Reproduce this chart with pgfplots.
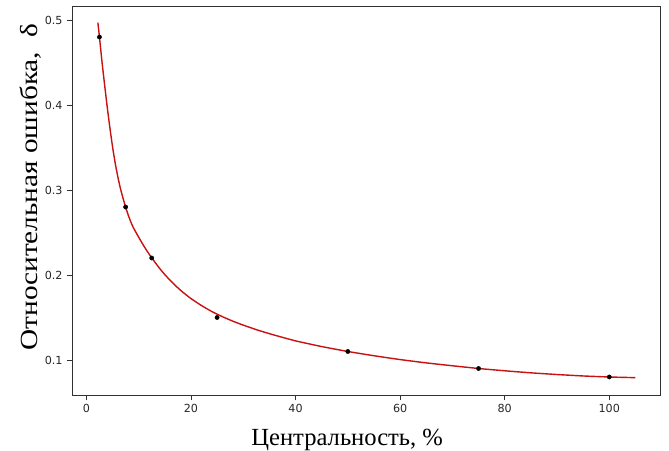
\documentclass[border=0pt]{standalone}
\usepackage{pgfplots}
\pgfplotsset{compat=1.18}
\usepackage{graphicx}
\usepackage{fontspec}
\setmainfont{Liberation Serif}
\newfontfamily\tickfont{DejaVu Sans}

\definecolor{fitred}{RGB}{200,18,18}
\definecolor{framegray}{RGB}{50,50,50}

% measured points
\pgfplotstableread{
x y
2.5 0.48
7.5 0.28
12.5 0.22
25 0.15
50 0.11
75 0.09
100 0.08
}\measured

% fitted curve
\pgfplotstableread{
x y
2.2 0.497
2.5 0.480
2.75 0.465
3 0.450
3.5 0.423
4 0.397
4.5 0.373
5 0.351
5.5 0.332
6 0.316
6.5 0.302
7 0.2905
7.5 0.280
8 0.2705
8.5 0.2625
9 0.2555
10 0.2445
11 0.2340
12 0.2245
13 0.2160
14 0.2078
15 0.2005
16 0.1938
17 0.1877
18 0.1821
19 0.1770
20 0.1723
22 0.1641
24 0.1570
26 0.1510
28 0.1457
30 0.1410
33 0.1347
36 0.1292
40 0.1225
45 0.1158
50 0.1100
55 0.1050
60 0.1005
65 0.0966
70 0.0932
75 0.0900
80 0.0873
85 0.0849
90 0.0829
95 0.0812
100 0.0800
105 0.0792
}\fit

\begin{document}
\begin{tikzpicture}
\begin{axis}[
  name=ax,
  scale only axis,
  width=17.64cm, height=11.67cm,
  xmin=-2.75, xmax=109.7,
  ymin=0.0588, ymax=0.5165,
  xtick={0,20,40,60,80,100},
  ytick={0.1,0.2,0.3,0.4,0.5},
  yticklabel style={/pgf/number format/.cd,fixed,fixed zerofill,precision=1},
  /pgf/number format/assume math mode=true,
  ticklabel style={font=\tickfont\fontsize{9.5}{11}\selectfont, text=black!85},
  tick align=outside,
  tick pos=left,
  major tick length=1.6mm,
  every tick/.style={framegray, line width=0.7pt},
  axis line style={framegray, line width=0.8pt},
  xlabel={Центральность, \%},
  ylabel={\scalebox{1.19}[1]{Относительная ошибка,~~δ}},
  label style={font=\fontsize{21}{24}\selectfont},
  xlabel style={at={(axis description cs:0.468,-0.131)}, anchor=base},
  ylabel style={at={(axis description cs:-0.058,0.535)}, anchor=base},
]
\addplot[fitred, line width=1.2pt, no marks, smooth, tension=0.3] table[x=x, y=y] {\fit};
\addplot[only marks, mark=*, mark size=1.8pt, black] table[x=x, y=y] {\measured};
\end{axis}
\pgfresetboundingbox
\path (ax.south west) ++(-2.16cm,-1.65cm) coordinate (bl);
\path (ax.north east) ++(0.27cm,0.18cm) coordinate (tr);
\path[use as bounding box] (bl) rectangle (tr);
\end{tikzpicture}
\end{document}
